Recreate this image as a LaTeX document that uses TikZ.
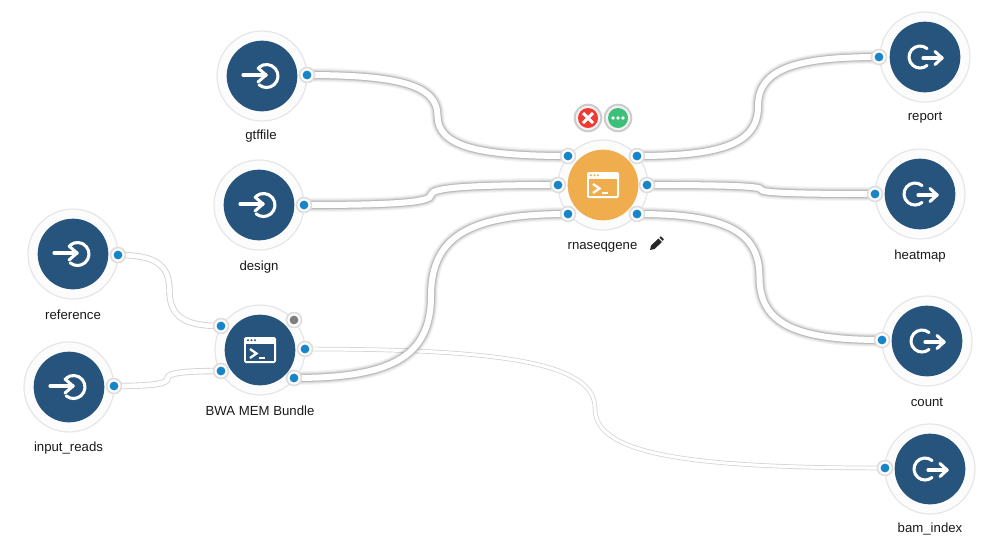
\documentclass[tikz,border=0pt]{standalone}
\usepackage{fontspec}
\setmainfont{Liberation Sans}
\usetikzlibrary{calc}
\definecolor{navy}{HTML}{26547C}
\definecolor{amber}{HTML}{EFAD4E}
\definecolor{portblue}{HTML}{1885C8}
\definecolor{ringline}{HTML}{E6E6E6}
\definecolor{portline}{HTML}{DDDDDD}
\definecolor{ringfill}{HTML}{FCFCFC}
\definecolor{wireedge}{HTML}{BABABA}
\definecolor{wirelight}{HTML}{D2D2D2}
\definecolor{okgreen}{HTML}{3CBF78}
\definecolor{stopred}{HTML}{EE3A33}
\definecolor{btnring}{HTML}{CCCCCC}
\definecolor{btnfill}{HTML}{F2F2F2}
\pgfdeclarelayer{wires}
\pgfsetlayers{wires,main}
\tikzset{
  ring/.style={circle,draw=ringline,fill=ringfill,line width=.9pt,minimum size=67.5pt,inner sep=0pt},
  corenavy/.style={circle,fill=navy,minimum size=53pt,inner sep=0pt},
  coreamber/.style={circle,fill=amber,minimum size=53pt,inner sep=0pt},
  portnode/.style={circle,draw=portline,fill=white,line width=1.2pt,minimum size=11.2pt,inner sep=0pt},
  dotblue/.style={circle,fill=portblue,minimum size=6.6pt,inner sep=0pt},
  dotgrey/.style={circle,fill=black!50,minimum size=6.6pt,inner sep=0pt},
  lbl/.style={font=\fontsize{9.9pt}{12pt}\selectfont,text=black!90,inner sep=0pt},
  wirepath/.style={to path={let \p1=(\tikztostart),\p2=(\tikztotarget),\p3=($(\tikztostart)!.5!(\tikztotarget)$) in
     .. controls ({\x1+.7*(\x3-\x1)},\y1) and (\x3,{\y1+.25*(\y3-\y1)}) .. (\x3,\y3)
     .. controls (\x3,{\y3+.75*(\y2-\y3)}) and ({\x3+.3*(\x2-\x3)},\y2) .. (\x2,\y2)}},
  bigwire/.style={wirepath,
     preaction={draw=black,opacity=.04,line width=10.5pt},
     preaction={draw=black,opacity=.06,line width=8.8pt},
     preaction={draw=black,opacity=.08,line width=7.2pt},
     preaction={draw=wireedge,line width=6pt},
     draw=white,line width=4.5pt},
  midwire/.style={wirepath,
     preaction={draw=wirelight,line width=4.8pt},
     draw=white,line width=3.5pt},
  thinwire/.style={wirepath,
     preaction={draw=wirelight,line width=3.4pt},
     draw=white,line width=2.3pt},
  iconline/.style={draw=white,line width=2.3pt,line cap=round,line join=round},
}
\newcommand{\inicon}[1]{\begin{scope}[shift={(#1)}]
  \draw[iconline] (-19,-1) -- (4,-1);
  \draw[iconline] (-4,-8) -- (4,-1) -- (-4,6);
  \draw[iconline] (4.5,0) ++(-130:11.5) arc[start angle=-130,delta angle=260,radius=11.5];
\end{scope}}
\newcommand{\outicon}[1]{\begin{scope}[shift={(#1)}]
  \draw[iconline] (-2,1) -- (17,1);
  \draw[iconline] (10,-5.5) -- (17,1) -- (10,7.5);
  \draw[iconline] (-5,0) ++(-50:11) arc[start angle=-50,delta angle=-260,radius=11];
\end{scope}}
\newcommand{\termicon}[2]{\begin{scope}[shift={(#1)}]
  \fill[white,rounded corners=1.2pt] (-16,-13) rectangle (16,13);
  \fill[#2] (-13.8,-6.5) rectangle (13.8,10.8);
  \foreach \dx in {-12,-8.5,-5} \fill[#2] (\dx,-9.8) circle[radius=1.1];
  \draw[white,line width=1.7pt] (-10,-1) -- (-3.5,3.5) -- (-10,8);
  \draw[white,line width=1.3pt] (-1.5,7.8) -- (4.5,7.8);
\end{scope}}
\begin{document}
\begin{tikzpicture}[x=.75pt,y=-.75pt]
\useasboundingbox (0,0) rectangle (1000,544);
% step rings and cores
\foreach \nm/\px/\py in {gtffile/262/76,design/259/205,reference/73/254,inputreads/69/387,bwa/260/350,report/925/57,heatmap/920/194,count/927/341,bamindex/930/469}{
  \node[ring] (\nm-ring) at (\px,\py) {};
}
\node[ring] (rnaseq-ring) at (603,185) {};
\foreach \nm/\px/\py in {gtffile/262/76,design/259/205,reference/73/254,inputreads/69/387,bwa/260/350,report/925/57,heatmap/920/194,count/927/341,bamindex/930/469}{
  \node[corenavy] (\nm) at (\px,\py) {};
}
\node[coreamber] (rnaseq) at (603,185) {};
\inicon{262,76}\inicon{259,205}\inicon{73,254}\inicon{69,387}
\outicon{925,57}\outicon{920,194}\outicon{927,341}\outicon{930,469}
\termicon{260,350}{navy}
\termicon{603,185}{amber}
% ports
\foreach \nm/\px/\py in {pgtf/307/75,pdesign/304/205,pref/118/255,pinp/114/386,
   bwaA/221/326,bwaB/221/371,bwaC/305/349,bwaD/294/378,
   rnaA/568/156,rnaB/558/185,rnaC/568/214,rnaD/637/156,rnaE/647/185,rnaF/637/214,
   prep/879/57,pheat/875/194,pcount/882/340,pbam/885/468}{
  \node[portnode] (\nm) at (\px,\py) {};
  \node[dotblue] (\nm-dot) at (\px,\py) {};
}
\node[portnode] (bwaG) at (294,320) {};
\node[dotgrey] (bwaG-dot) at (294,320) {};
% connectors
\begin{pgfonlayer}{wires}
\draw[midwire] (pref.center) to (bwaA.center);
\draw[midwire] (pinp.center) to (bwaB.center);
\draw[thinwire] (bwaC.center) to (pbam.center);
\draw[bigwire] (pgtf.center) to (rnaA.center);
\draw[bigwire] (pdesign.center) to (rnaB.center);
\draw[bigwire] (bwaD.center) to (rnaC.center);
\draw[bigwire] (rnaD.center) to (prep.center);
\draw[bigwire] (rnaE.center) to (pheat.center);
\draw[bigwire] (rnaF.center) to (pcount.center);
\end{pgfonlayer}
% labels
\node[lbl] (l1) at (261,136) {gtffile};
\node[lbl] (l2) at (259,267) {design};
\node[lbl] (l3) at (73,315) {reference};
\node[lbl] (l4) at (68.5,448) {input\_reads};
\node[lbl] (l5) at (260,411) {BWA MEM Bundle};
\node[lbl] (l6) at (602.5,247) {rnaseqgene};
\node[lbl] (l7) at (925,118) {report};
\node[lbl] (l8) at (920,256) {heatmap};
\node[lbl] (l9) at (927,402) {count};
\node[lbl] (l10) at (930,529) {bam\_index};
% buttons
\node[circle,draw=btnring,fill=btnfill,line width=1.5pt,minimum size=20pt,inner sep=0pt] (stopring) at (588,118) {};
\node[circle,fill=stopred,minimum size=15pt,inner sep=0pt] (stop) at (588,118) {};
\draw[white,line width=2.3pt] (583,113) -- (593,123) (593,113) -- (583,123);
\node[circle,draw=btnring,fill=btnfill,line width=1.5pt,minimum size=20pt,inner sep=0pt] (morering) at (618,118) {};
\node[circle,fill=okgreen,minimum size=15pt,inner sep=0pt] (more) at (618,118) {};
\foreach \dx in {-5,0,5} \fill[white] (618+\dx,118) circle[radius=1.8];
% pencil
\fill[black!85] (650,250) -- (651,245.5) -- (658.5,238.5) -- (662,242) -- (654.5,249) -- cycle;
\fill[black!85] (659.5,237.5) -- (660.8,236.2) -- (663.8,239.2) -- (662.8,240.8) -- cycle;
\end{tikzpicture}
\end{document}
